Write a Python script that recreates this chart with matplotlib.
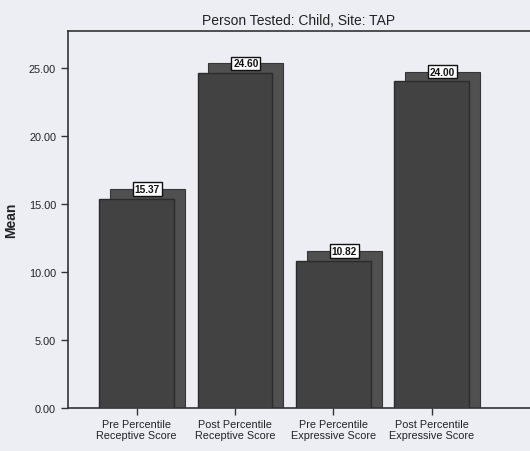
import numpy as np
import matplotlib
matplotlib.use("Agg")
import matplotlib.pyplot as plt

# data
categories = ["Pre Percentile\nReceptive Score", "Post Percentile\nReceptive Score",
              "Pre Percentile\nExpressive Score", "Post Percentile\nExpressive Score"]
means = [15.37, 24.60, 10.82, 24.00]
y_ticks = [0, 5, 10, 15, 20, 25]

plt.rcParams['font.family'] = ['Liberation Sans', 'DejaVu Sans']
bg = '#eceef4'

fig = plt.figure(figsize=(5.3, 4.52), dpi=100, facecolor=bg)
ax = fig.add_axes([0.128, 0.095, 0.872, 0.834])
ax.set_facecolor(bg)

x = np.arange(len(categories))
width = 0.76
dx, dy = 0.11, 0.72  # offset of the "shadow" bar behind

# back (depth) bars, then front bars
ax.bar(x + dx, np.array(means) + dy, width=width, color='#505050',
       edgecolor='#363636', linewidth=0.8, zorder=2)
ax.bar(x, means, width=width, color='#424242', edgecolor='#2b2b2b',
       linewidth=1.0, zorder=3)

for xi, v in zip(x, means):
    ax.text(xi + dx, v + dy, "%.2f" % v, ha='center', va='center', fontsize=7.3,
            fontweight='bold', color='#111111', zorder=5,
            bbox=dict(boxstyle='square,pad=0.18', fc='white', ec='#111111', lw=1.0))

ax.set_xlim(-0.7, 4.0)
ax.set_ylim(0, 27.7)
ax.set_yticks(y_ticks)
ax.set_yticklabels(["%.2f" % t for t in y_ticks], fontsize=7.8, color='#222222')
ax.set_xticks(x)
ax.set_xticklabels(categories, fontsize=7.8, color='#222222', linespacing=1.15)
ax.tick_params(axis='both', direction='out', length=5, width=1, color='#333333')
ax.tick_params(axis='x', pad=3)

for side in ['left', 'bottom', 'top']:
    ax.spines[side].set_color('#333333')
    ax.spines[side].set_linewidth(1.2)
ax.spines['right'].set_visible(False)

ax.set_ylabel("Mean", fontsize=10, fontweight='bold', color='#222222', labelpad=8)
ax.set_title("Person Tested: Child, Site: TAP", fontsize=10, color='#222222', pad=5)

fig.savefig("out.png", dpi=100, facecolor=bg)
